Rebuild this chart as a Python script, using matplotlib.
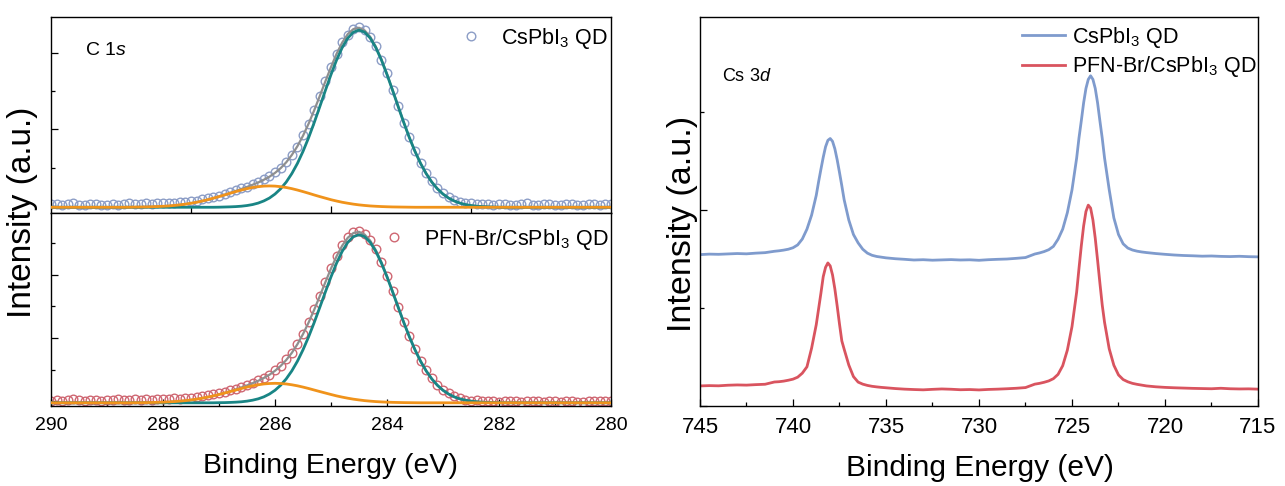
import numpy as np
import matplotlib
matplotlib.use("Agg")
import matplotlib.pyplot as plt
from matplotlib.ticker import FixedLocator, MultipleLocator, NullFormatter

plt.rcParams['font.family'] = ['Liberation Sans', 'DejaVu Sans']
plt.rcParams['mathtext.fontset'] = 'custom'
plt.rcParams['mathtext.rm'] = 'Liberation Sans'
plt.rcParams['mathtext.it'] = 'Liberation Sans:italic'
plt.rcParams['mathtext.bf'] = 'Liberation Sans:bold'

# ---------------- C 1s data (binding energy grid 290 -> 280 eV, 0.1 eV step) -------------
c1s_energy = np.round(np.linspace(290.0, 280.0, 101), 1)

c1s_top_data = [
    0.105, 0.112, 0.098, 0.104, 0.118, 0.101, 0.095, 0.109, 0.115, 0.097,
    0.103, 0.112, 0.099, 0.108, 0.121, 0.104, 0.113, 0.118, 0.109, 0.122,
    0.117, 0.128, 0.121, 0.136, 0.131, 0.148, 0.152, 0.165, 0.178, 0.192,
    0.212, 0.228, 0.251, 0.279, 0.301, 0.322, 0.356, 0.381, 0.412, 0.447,
    0.495, 0.552, 0.621, 0.712, 0.808, 0.951, 1.083, 1.259, 1.431, 1.611,
    1.784, 1.938, 2.083, 2.176, 2.248, 2.262, 2.231, 2.145, 2.034, 1.869,
    1.702, 1.494, 1.309, 1.098, 0.925, 0.762, 0.613, 0.489, 0.386, 0.305,
    0.242, 0.196, 0.163, 0.138, 0.124, 0.117, 0.109, 0.112, 0.104, 0.099,
    0.108, 0.114, 0.101, 0.097, 0.109, 0.118, 0.103, 0.096, 0.106, 0.112,
    0.099, 0.094, 0.107, 0.115, 0.102, 0.098, 0.111, 0.104, 0.093, 0.108,
    0.113]
c1s_top_main = [
    0.07, 0.07, 0.07, 0.07, 0.07, 0.07, 0.07, 0.07, 0.07, 0.07,
    0.07, 0.07, 0.07, 0.07, 0.07, 0.07, 0.07, 0.07, 0.07, 0.07,
    0.07, 0.07, 0.07, 0.07, 0.07, 0.07, 0.07, 0.07, 0.07, 0.07,
    0.071, 0.073, 0.075, 0.078, 0.083, 0.091, 0.103, 0.121, 0.147, 0.182,
    0.231, 0.295, 0.377, 0.480, 0.604, 0.751, 0.918, 1.102, 1.297, 1.495,
    1.688, 1.866, 2.017, 2.133, 2.205, 2.230, 2.205, 2.133, 2.017, 1.866,
    1.688, 1.495, 1.297, 1.102, 0.918, 0.751, 0.604, 0.480, 0.377, 0.295,
    0.231, 0.182, 0.147, 0.121, 0.103, 0.091, 0.083, 0.078, 0.075, 0.073,
    0.071, 0.07, 0.07, 0.07, 0.07, 0.07, 0.07, 0.07, 0.07, 0.07,
    0.07, 0.07, 0.07, 0.07, 0.07, 0.07, 0.07, 0.07, 0.07, 0.07,
    0.07]
c1s_top_side = [
    0.07, 0.07, 0.07, 0.07, 0.07, 0.07, 0.07, 0.07, 0.07, 0.07,
    0.07, 0.07, 0.07, 0.07, 0.071, 0.072, 0.073, 0.074, 0.076, 0.0785,
    0.082, 0.086, 0.092, 0.099, 0.108, 0.119, 0.131, 0.146, 0.162, 0.181,
    0.200, 0.220, 0.241, 0.261, 0.280, 0.297, 0.311, 0.321, 0.328, 0.330,
    0.328, 0.321, 0.311, 0.297, 0.280, 0.261, 0.241, 0.220, 0.200, 0.181,
    0.162, 0.146, 0.131, 0.119, 0.108, 0.099, 0.092, 0.086, 0.082, 0.0785,
    0.076, 0.074, 0.073, 0.072, 0.071, 0.07, 0.07, 0.07, 0.07, 0.07,
    0.07, 0.07, 0.07, 0.07, 0.07, 0.07, 0.07, 0.07, 0.07, 0.07,
    0.07, 0.07, 0.07, 0.07, 0.07, 0.07, 0.07, 0.07, 0.07, 0.07,
    0.07, 0.07, 0.07, 0.07, 0.07, 0.07, 0.07, 0.07, 0.07, 0.07,
    0.07]
c1s_top_base = 0.07

c1s_bot_data = [
    0.082, 0.091, 0.078, 0.095, 0.103, 0.087, 0.081, 0.098, 0.092, 0.085,
    0.096, 0.089, 0.104, 0.093, 0.099, 0.108, 0.097, 0.112, 0.101, 0.109,
    0.114, 0.106, 0.118, 0.112, 0.124, 0.131, 0.142, 0.151, 0.168, 0.186,
    0.201, 0.219, 0.243, 0.268, 0.295, 0.331, 0.362, 0.401, 0.445, 0.492,
    0.558, 0.631, 0.728, 0.836, 0.975, 1.131, 1.318, 1.512, 1.728, 1.946,
    2.160, 2.352, 2.521, 2.642, 2.718, 2.737, 2.695, 2.594, 2.449, 2.258,
    2.038, 1.801, 1.555, 1.316, 1.091, 0.886, 0.709, 0.556, 0.432, 0.331,
    0.255, 0.196, 0.152, 0.121, 0.099, 0.084, 0.091, 0.078, 0.072, 0.081,
    0.069, 0.076, 0.083, 0.071, 0.065, 0.079, 0.086, 0.072, 0.068, 0.077,
    0.081, 0.069, 0.074, 0.083, 0.070, 0.065, 0.078, 0.084, 0.071, 0.076,
    0.073]
c1s_bot_main = [
    0.05, 0.05, 0.05, 0.05, 0.05, 0.05, 0.05, 0.05, 0.05, 0.05,
    0.05, 0.05, 0.05, 0.05, 0.05, 0.05, 0.05, 0.05, 0.05, 0.05,
    0.05, 0.05, 0.05, 0.05, 0.05, 0.05, 0.05, 0.05, 0.05, 0.05,
    0.052, 0.053, 0.056, 0.060, 0.066, 0.076, 0.091, 0.112, 0.143, 0.187,
    0.246, 0.324, 0.424, 0.549, 0.700, 0.879, 1.082, 1.306, 1.544, 1.786,
    2.021, 2.236, 2.420, 2.561, 2.650, 2.680, 2.650, 2.561, 2.420, 2.236,
    2.021, 1.786, 1.544, 1.306, 1.082, 0.879, 0.700, 0.549, 0.424, 0.324,
    0.246, 0.187, 0.143, 0.112, 0.091, 0.076, 0.066, 0.060, 0.056, 0.053,
    0.052, 0.05, 0.05, 0.05, 0.05, 0.05, 0.05, 0.05, 0.05, 0.05,
    0.05, 0.05, 0.05, 0.05, 0.05, 0.05, 0.05, 0.05, 0.05, 0.05,
    0.05]
c1s_bot_side = [
    0.05, 0.05, 0.05, 0.05, 0.05, 0.05, 0.05, 0.05, 0.05, 0.05,
    0.05, 0.05, 0.05, 0.05, 0.05, 0.051, 0.052, 0.053, 0.055, 0.057,
    0.060, 0.064, 0.069, 0.076, 0.084, 0.095, 0.107, 0.122, 0.139, 0.158,
    0.180, 0.203, 0.226, 0.250, 0.274, 0.296, 0.316, 0.332, 0.345, 0.352,
    0.355, 0.352, 0.345, 0.332, 0.316, 0.296, 0.274, 0.250, 0.226, 0.203,
    0.180, 0.158, 0.139, 0.122, 0.107, 0.095, 0.084, 0.076, 0.069, 0.064,
    0.060, 0.057, 0.055, 0.053, 0.052, 0.051, 0.05, 0.05, 0.05, 0.05,
    0.05, 0.05, 0.05, 0.05, 0.05, 0.05, 0.05, 0.05, 0.05, 0.05,
    0.05, 0.05, 0.05, 0.05, 0.05, 0.05, 0.05, 0.05, 0.05, 0.05,
    0.05, 0.05, 0.05, 0.05, 0.05, 0.05, 0.05, 0.05, 0.05, 0.05,
    0.05]
c1s_bot_base = 0.05

# ---------------- Cs 3d data (finer sampling across the two peaks) -------------
cs_energy = np.concatenate([
    np.arange(745.0, 741.0, -0.5),      # 8
    np.arange(741.0, 738.75, -0.25),    # 9
    np.arange(738.75, 737.25, -0.125),  # 12
    np.arange(737.25, 735.0, -0.25),    # 9
    np.arange(735.0, 727.0, -0.5),      # 16
    np.arange(727.0, 724.75, -0.25),    # 9
    np.arange(724.75, 723.25, -0.125),  # 12
    np.arange(723.25, 721.0, -0.25),    # 9
    np.arange(721.0, 714.9, -0.5)])     # 13
cs_pristine = [
    1.545, 1.550, 1.548, 1.552, 1.556, 1.553, 1.560, 1.565,
    1.579, 1.584, 1.591, 1.600, 1.615, 1.644, 1.704, 1.805, 1.948,
    2.150, 2.287, 2.415, 2.538, 2.645, 2.711, 2.730, 2.701, 2.625, 2.513, 2.383, 2.247,
    2.105, 1.898, 1.750, 1.665, 1.600, 1.560, 1.538, 1.526, 1.519,
    1.512, 1.503, 1.497, 1.490, 1.493, 1.488, 1.491, 1.494, 1.490, 1.492, 1.487, 1.493,
    1.497, 1.500, 1.507, 1.515,
    1.551, 1.562, 1.576, 1.595, 1.629, 1.702, 1.805, 1.973, 2.206,
    2.530, 2.735, 2.910, 3.094, 3.241, 3.333, 3.370, 3.333, 3.241, 3.094, 2.910, 2.734,
    2.531, 2.208, 1.920, 1.750, 1.655, 1.612, 1.592, 1.580, 1.572,
    1.566, 1.556, 1.548, 1.541, 1.536, 1.533, 1.529, 1.531, 1.527, 1.525, 1.528, 1.524,
    1.522]
cs_pfn = [
    0.205, 0.208, 0.206, 0.212, 0.215, 0.213, 0.218, 0.222,
    0.245, 0.248, 0.254, 0.263, 0.274, 0.294, 0.335, 0.400, 0.590,
    0.830, 0.990, 1.150, 1.320, 1.415, 1.460, 1.430, 1.338, 1.195, 1.021, 0.836, 0.664,
    0.580, 0.418, 0.300, 0.244, 0.223, 0.210, 0.201, 0.195, 0.190,
    0.186, 0.178, 0.172, 0.168, 0.165, 0.170, 0.174, 0.171, 0.166, 0.168, 0.164, 0.169,
    0.172, 0.176, 0.181, 0.188,
    0.223, 0.231, 0.242, 0.256, 0.279, 0.323, 0.411, 0.570, 0.810,
    1.162, 1.403, 1.634, 1.837, 1.985, 2.050, 2.020, 1.898, 1.712, 1.488, 1.254, 1.031,
    0.854, 0.584, 0.416, 0.317, 0.270, 0.247, 0.231, 0.221, 0.213,
    0.205, 0.196, 0.190, 0.186, 0.183, 0.180, 0.178, 0.176, 0.181, 0.176, 0.174, 0.175,
    0.172]

# ---------------- styling -------------
col_top_pts = '#8c9dc6'
col_bot_pts = '#cf6772'
col_main = '#198585'
col_side = '#f0931b'
col_env = '#8f8f8f'
col_blue = '#7f9bcd'
col_red = '#d9545f'

W, H = 1285, 486
fig = plt.figure(figsize=(W / 100, H / 100), dpi=100)


def box(x0, y0, x1, y1):
    return [x0 / W, 1 - y1 / H, (x1 - x0) / W, (y1 - y0) / H]


ax_top = fig.add_axes(box(51, 17, 611, 213))
ax_bot = fig.add_axes(box(51, 213, 611, 406))
ax_r = fig.add_axes(box(700, 17, 1258, 406))

for ax, data, main, side, base, pc in [
        (ax_top, c1s_top_data, c1s_top_main, c1s_top_side, c1s_top_base, col_top_pts),
        (ax_bot, c1s_bot_data, c1s_bot_main, c1s_bot_side, c1s_bot_base, col_bot_pts)]:
    main = np.array(main)
    side = np.array(side)
    env = main + side - base
    ax.plot(c1s_energy, data, 'o', mfc='none', mec=pc, ms=6.2, mew=1.0, zorder=2)
    ax.plot(c1s_energy, env, '-', color=col_env, lw=1.6, zorder=3)
    ax.plot(c1s_energy, main, '-', color=col_main, lw=2.0, zorder=4)
    ax.plot(c1s_energy, side, '-', color=col_side, lw=2.0, zorder=5)
    ax.set_xlim(290, 280)

ax_top.set_ylim(0, 2.39)
ax_bot.set_ylim(0, 3.02)

ax_r.plot(cs_energy, cs_pristine, '-', color=col_blue, lw=2.0, label=r'CsPbI$_3$ QD')
ax_r.plot(cs_energy, cs_pfn, '-', color=col_red, lw=2.0, label=r'PFN-Br/CsPbI$_3$ QD')
ax_r.set_xlim(745, 715)
ax_r.set_ylim(0, 3.97)

# ticks
for ax in (ax_top, ax_bot, ax_r):
    for s in ax.spines.values():
        s.set_linewidth(1.0)
    ax.tick_params(which='both', direction='in', width=0.9, top=False, right=False)
    ax.tick_params(which='major', length=5)
    ax.tick_params(which='minor', length=3)
    ax.yaxis.set_major_formatter(NullFormatter())

ax_top.xaxis.set_major_locator(FixedLocator([287.5, 285, 282.5]))
ax_top.xaxis.set_major_formatter(NullFormatter())
ax_top.yaxis.set_major_locator(FixedLocator([0.085, 1.02, 1.955]))
ax_top.yaxis.set_minor_locator(FixedLocator([0.55, 1.49]))

ax_bot.xaxis.set_major_locator(MultipleLocator(2))
ax_bot.xaxis.set_minor_locator(MultipleLocator(1))
ax_bot.yaxis.set_major_locator(FixedLocator([0.075, 1.065, 2.055]))
ax_bot.yaxis.set_minor_locator(FixedLocator([0.57, 1.56, 2.55]))
ax_bot.tick_params(axis='x', labelsize=14, pad=8)

ax_r.xaxis.set_major_locator(MultipleLocator(5))
ax_r.xaxis.set_minor_locator(MultipleLocator(2.5))
ax_r.yaxis.set_major_locator(FixedLocator([0, 2]))
ax_r.yaxis.set_minor_locator(FixedLocator([1, 3]))
ax_r.tick_params(axis='x', labelsize=16, pad=8)

# annotations
ax_top.text(0.061, 0.83, r'C 1$\mathit{s}$', transform=ax_top.transAxes, fontsize=14, va='center')
ax_r.text(0.039, 0.846, r'Cs 3$\mathit{d}$', transform=ax_r.transAxes, fontsize=13, va='center')

ax_top.legend([ax_top.lines[0]], [r'CsPbI$_3$ QD'], loc='upper right', bbox_to_anchor=(0.995, 0.955),
              frameon=False, fontsize=15.5, numpoints=1, handlelength=1.0, handletextpad=0.9,
              borderpad=0, borderaxespad=0)
ax_bot.legend([ax_bot.lines[0]], [r'PFN-Br/CsPbI$_3$ QD'], loc='upper right', bbox_to_anchor=(0.995, 0.93),
              frameon=False, fontsize=15.5, numpoints=1, handlelength=1.0, handletextpad=0.9,
              borderpad=0, borderaxespad=0)
ax_r.legend(loc='upper right', bbox_to_anchor=(0.997, 0.98), frameon=False, fontsize=15.5,
            handlelength=2.0, handletextpad=0.3, labelspacing=0.2, borderpad=0, borderaxespad=0)

fig.text(330 / W, 1 - 466 / H, 'Binding Energy (eV)', ha='center', va='center', fontsize=20.5)
fig.text(980 / W, 1 - 468 / H, 'Binding Energy (eV)', ha='center', va='center', fontsize=21.5)
fig.text(22 / W, 1 - 212 / H, 'Intensity (a.u.)', rotation=90, ha='center', va='center', fontsize=24)
fig.text(682 / W, 1 - 224 / H, 'Intensity (a.u.)', rotation=90, ha='center', va='center', fontsize=24.5)

fig.savefig('out.png', dpi=100)
